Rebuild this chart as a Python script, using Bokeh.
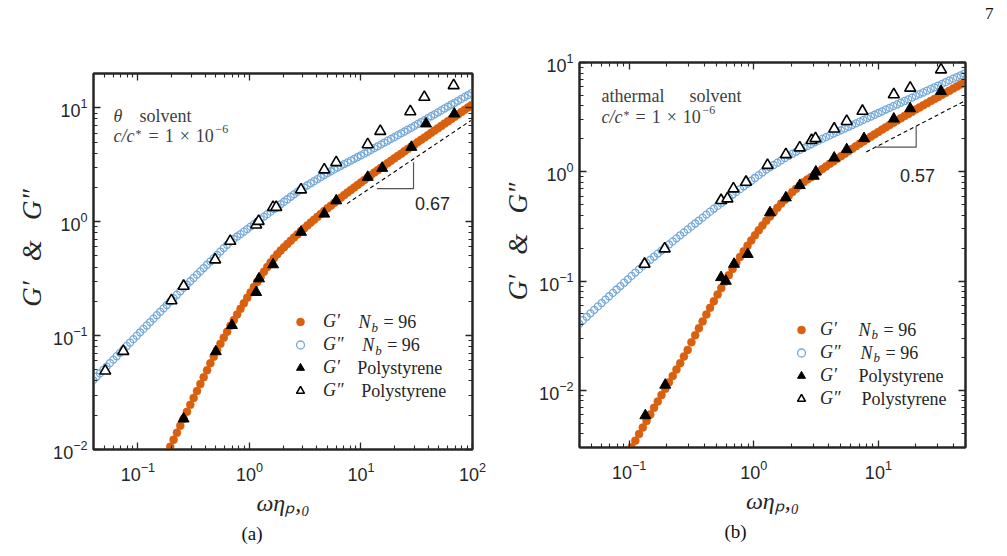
from bokeh.plotting import figure
from bokeh.models import (Range1d, FixedTicker, LogAxis, Label, Legend, LegendItem,
                          CustomJSTickFormatter, Title)
from bokeh.layouts import row, column
from bokeh.embed import file_html
from bokeh.resources import INLINE

# ---------------------------------------------------------------- data
# panel (a): theta solvent -- simulation (log10 values)
LOG_OMEGA_A = [
    -1.40, -1.37, -1.34, -1.31, -1.28, -1.25, -1.22, -1.19, -1.16, -1.13,
    -1.10, -1.07, -1.04, -1.01, -0.98, -0.95, -0.92, -0.89, -0.86, -0.83,
    -0.80, -0.77, -0.74, -0.71, -0.68, -0.65, -0.62, -0.59, -0.56, -0.53,
    -0.50, -0.47, -0.44, -0.41, -0.38, -0.35, -0.32, -0.29, -0.26, -0.23,
    -0.20, -0.17, -0.14, -0.11, -0.08, -0.05, -0.02, 0.01, 0.04, 0.07,
    0.10, 0.13, 0.16, 0.19, 0.22, 0.25, 0.28, 0.31, 0.34, 0.37,
    0.40, 0.43, 0.46, 0.49, 0.52, 0.55, 0.58, 0.61, 0.64, 0.67,
    0.70, 0.73, 0.76, 0.79, 0.82, 0.85, 0.88, 0.91, 0.94, 0.97,
    1.00, 1.03, 1.06, 1.09, 1.12, 1.15, 1.18, 1.21, 1.24, 1.27,
    1.30, 1.33, 1.36, 1.39, 1.42, 1.45, 1.48, 1.51, 1.54, 1.57,
    1.60, 1.63, 1.66, 1.69, 1.72, 1.75, 1.78, 1.81, 1.84, 1.87,
    1.90, 1.93, 1.96, 1.99]
LOG_GPP_SIM_A = [
    -1.391, -1.361, -1.331, -1.301, -1.271, -1.241, -1.211, -1.181, -1.151, -1.121,
    -1.091, -1.061, -1.031, -1.001, -0.971, -0.941, -0.911, -0.881, -0.851, -0.821,
    -0.791, -0.761, -0.731, -0.701, -0.671, -0.641, -0.611, -0.581, -0.552, -0.523,
    -0.494, -0.465, -0.436, -0.407, -0.378, -0.349, -0.320, -0.291, -0.262, -0.232,
    -0.203, -0.174, -0.152, -0.130, -0.109, -0.087, -0.065, -0.043, -0.021, 0.001,
    0.023, 0.044, 0.066, 0.088, 0.110, 0.131, 0.153, 0.175, 0.197, 0.219,
    0.240, 0.262, 0.284, 0.302, 0.320, 0.338, 0.356, 0.374, 0.392, 0.410,
    0.427, 0.443, 0.459, 0.475, 0.490, 0.506, 0.521, 0.537, 0.552, 0.568,
    0.583, 0.599, 0.614, 0.630, 0.646, 0.662, 0.679, 0.695, 0.711, 0.727,
    0.743, 0.760, 0.776, 0.792, 0.808, 0.824, 0.841, 0.858, 0.875, 0.892,
    0.909, 0.926, 0.943, 0.960, 0.977, 0.994, 1.011, 1.028, 1.044, 1.061,
    1.078, 1.095, 1.112, 1.129]
# G' simulation, aligned with the last entries of LOG_OMEGA_A (from -0.74 on)
LOG_GP_SIM_A = [
    -2.038, -1.976, -1.915, -1.853, -1.792, -1.730, -1.669, -1.608, -1.547, -1.486,
    -1.426, -1.365, -1.304, -1.243, -1.185, -1.128, -1.072, -1.018, -0.966, -0.914,
    -0.864, -0.814, -0.765, -0.716, -0.668, -0.621, -0.574, -0.529, -0.486, -0.440,
    -0.398, -0.358, -0.320, -0.285, -0.254, -0.224, -0.195, -0.167, -0.139, -0.112,
    -0.085, -0.059, -0.033, -0.007, 0.018, 0.043, 0.068, 0.093, 0.117, 0.141,
    0.165, 0.188, 0.211, 0.234, 0.257, 0.279, 0.301, 0.323, 0.345, 0.367,
    0.389, 0.410, 0.431, 0.452, 0.473, 0.494, 0.515, 0.536, 0.556, 0.577,
    0.597, 0.618, 0.638, 0.658, 0.678, 0.699, 0.719, 0.739, 0.759, 0.780,
    0.800, 0.820, 0.841, 0.861, 0.881, 0.901, 0.922, 0.942, 0.962, 0.982,
    1.003, 1.023]
# panel (a): polystyrene
PS_OMEGA_GPP_A = [0.051, 0.074, 0.20, 0.257, 0.493, 0.673, 1.15, 1.21, 1.63, 1.74,
                  2.9, 4.69, 6.0, 11.5, 14.9, 27.7, 37.0, 67.8]
PS_GPP_A = [0.049, 0.073, 0.203, 0.272, 0.464, 0.675, 0.94, 1.01, 1.34, 1.34,
            1.91, 2.86, 3.31, 4.76, 6.23, 9.27, 12.4, 15.7]
PS_OMEGA_GP_A = [0.257, 0.50, 0.697, 1.15, 1.22, 1.63, 2.9, 4.69, 6.0, 11.5,
                 15.5, 28.3, 38.3, 68.7]
PS_GP_A = [0.0186, 0.0724, 0.123, 0.24, 0.316, 0.42, 0.81, 1.17, 1.53, 2.46,
           2.95, 4.51, 7.24, 8.85]

# panel (b): athermal solvent -- simulation
LOG_OMEGA_B = [
    -1.40, -1.37, -1.34, -1.31, -1.28, -1.25, -1.22, -1.19, -1.16, -1.13,
    -1.10, -1.07, -1.04, -1.01, -0.98, -0.95, -0.92, -0.89, -0.86, -0.83,
    -0.80, -0.77, -0.74, -0.71, -0.68, -0.65, -0.62, -0.59, -0.56, -0.53,
    -0.50, -0.47, -0.44, -0.41, -0.38, -0.35, -0.32, -0.29, -0.26, -0.23,
    -0.20, -0.17, -0.14, -0.11, -0.08, -0.05, -0.02, 0.01, 0.04, 0.07,
    0.10, 0.13, 0.16, 0.19, 0.22, 0.25, 0.28, 0.31, 0.34, 0.37,
    0.40, 0.43, 0.46, 0.49, 0.52, 0.55, 0.58, 0.61, 0.64, 0.67,
    0.70, 0.73, 0.76, 0.79, 0.82, 0.85, 0.88, 0.91, 0.94, 0.97,
    1.00, 1.03, 1.06, 1.09, 1.12, 1.15, 1.18, 1.21, 1.24, 1.27,
    1.30, 1.33, 1.36, 1.39, 1.42, 1.45, 1.48, 1.51, 1.54, 1.57,
    1.60, 1.63, 1.66, 1.69]
LOG_GPP_SIM_B = [
    -1.390, -1.358, -1.327, -1.295, -1.264, -1.232, -1.201, -1.170, -1.139, -1.108,
    -1.077, -1.046, -1.015, -0.984, -0.953, -0.922, -0.891, -0.861, -0.833, -0.805,
    -0.777, -0.749, -0.721, -0.693, -0.665, -0.637, -0.609, -0.581, -0.554, -0.527,
    -0.500, -0.473, -0.446, -0.419, -0.392, -0.365, -0.338, -0.312, -0.286, -0.261,
    -0.235, -0.210, -0.184, -0.159, -0.133, -0.108, -0.082, -0.057, -0.031, -0.006,
    0.020, 0.041, 0.062, 0.083, 0.104, 0.125, 0.146, 0.165, 0.183, 0.200,
    0.218, 0.235, 0.252, 0.269, 0.285, 0.301, 0.317, 0.333, 0.349, 0.365,
    0.380, 0.396, 0.412, 0.428, 0.443, 0.459, 0.475, 0.491, 0.506, 0.522,
    0.538, 0.553, 0.569, 0.585, 0.601, 0.616, 0.632, 0.648, 0.663, 0.679,
    0.695, 0.711, 0.726, 0.742, 0.758, 0.773, 0.789, 0.805, 0.820, 0.836,
    0.852, 0.867, 0.883, 0.899]
# G' simulation, aligned with the last entries of LOG_OMEGA_B (from -0.98 on)
LOG_GP_SIM_B = [
    -2.520, -2.460, -2.400, -2.340, -2.280, -2.220, -2.160, -2.102, -2.043, -1.985,
    -1.926, -1.868, -1.809, -1.751, -1.690, -1.630, -1.560, -1.495, -1.432, -1.369,
    -1.307, -1.245, -1.184, -1.124, -1.064, -1.005, -0.946, -0.889, -0.833, -0.779,
    -0.727, -0.677, -0.628, -0.581, -0.536, -0.492, -0.449, -0.409, -0.371, -0.329,
    -0.291, -0.255, -0.219, -0.185, -0.155, -0.125, -0.095, -0.070, -0.049, -0.023,
    0.001, 0.025, 0.049, 0.073, 0.096, 0.120, 0.143, 0.166, 0.189, 0.211,
    0.234, 0.256, 0.278, 0.300, 0.322, 0.343, 0.365, 0.386, 0.407, 0.428,
    0.449, 0.469, 0.489, 0.510, 0.529, 0.549, 0.569, 0.589, 0.608, 0.628,
    0.647, 0.666, 0.685, 0.704, 0.723, 0.742, 0.761, 0.780, 0.798, 0.817]
# panel (b): polystyrene
PS_OMEGA_GPP_B = [0.133, 0.193, 0.547, 0.615, 0.687, 0.867, 1.29, 1.81, 2.34, 2.91,
                  3.13, 4.42, 5.57, 7.45, 13.3, 18.0, 31.8]
PS_GPP_B = [0.143, 0.198, 0.548, 0.567, 0.70, 0.805, 1.15, 1.44, 1.66, 1.94,
            2.02, 2.47, 2.90, 3.59, 5.09, 5.85, 8.6]
PS_OMEGA_GP_B = [0.135, 0.195, 0.547, 0.597, 0.695, 0.895, 1.35, 1.81, 2.34, 3.03,
                 3.15, 4.42, 5.57, 7.67, 13.3, 18.0, 31.8]
PS_GP_B = [0.00588, 0.0112, 0.108, 0.100, 0.143, 0.176, 0.423, 0.579, 0.752, 0.914,
           1.0, 1.34, 1.60, 2.02, 3.05, 3.79, 5.46]

# slope guides
SLOPE_LINE_A = ([7.5, 96.6], [1.44, 7.73])
SLOPE_BRACKET_A = ([29.6, 29.6, 13.9], [3.33, 1.95, 1.95])
SLOPE_LABEL_A = "0.67"
SLOPE_LINE_B = ([8.0, 49.0], [1.52, 4.43])
SLOPE_BRACKET_B = ([20.1, 20.1, 9.33], [2.62, 1.68, 1.68])
SLOPE_LABEL_B = "0.57"

X_TICKS = [0.1, 1, 10, 100]
Y_TICKS = [0.01, 0.1, 1, 10]
MINOR = [m * 10.0 ** e for e in range(-3, 3) for m in range(2, 10)]

Y_LABEL = "\u2003G′ \u2002&\u2002 G″"
X_LABEL = "ωηₚ,₀"
PAGE_NUMBER = "7"

# ---------------------------------------------------------------- style
ORANGE = "#D9600F"
BLUE = "#74A9D8"
AXC = "#262626"
TXT = "#404040"
SERIF = "Liberation Serif"
SANS = "Liberation Sans"
SP = "\u2004"   # three-per-em space


def lin(vals):
    return [10.0 ** v for v in vals]


def style_axis(ax, ticks, show_labels=True):
    ax.ticker = FixedTicker(ticks=ticks, minor_ticks=MINOR)
    ax.major_tick_in = 7
    ax.major_tick_out = 0
    ax.minor_tick_in = 4
    ax.minor_tick_out = 0
    ax.major_tick_line_color = AXC
    ax.major_tick_line_width = 1.3
    ax.minor_tick_line_color = AXC
    ax.minor_tick_line_width = 1.1
    ax.axis_line_color = AXC
    ax.axis_line_width = 2
    ax.major_label_text_font = SANS
    ax.major_label_text_font_size = "18px"
    ax.major_label_text_color = AXC
    if not show_labels:
        ax.formatter = CustomJSTickFormatter(code="return ''")


def build(cfg):
    p = figure(width=cfg["width"], height=556, x_axis_type="log", y_axis_type="log",
               x_range=Range1d(*cfg["xr"]), y_range=Range1d(*cfg["yr"]),
               toolbar_location=None, output_backend="svg",
               min_border_left=cfg["fl"], min_border_right=cfg["width"] - cfg["fr"],
               min_border_top=cfg["ft"], min_border_bottom=556 - cfg["fb"])
    p.background_fill_color = "white"
    p.border_fill_color = "white"
    p.outline_line_color = AXC
    p.outline_line_width = 2
    p.outline_line_alpha = 1.0
    p.grid.visible = False

    xa, ya = p.xaxis[0], p.yaxis[0]
    style_axis(xa, X_TICKS)
    style_axis(ya, Y_TICKS)
    xa.major_label_standoff = 12
    ya.major_label_standoff = 6
    xa.axis_label = X_LABEL
    xa.axis_label_text_font = SERIF
    xa.axis_label_text_font_style = "italic"
    xa.axis_label_text_font_size = "24px"
    xa.axis_label_text_color = AXC
    xa.axis_label_standoff = 6
    ya.axis_label = Y_LABEL
    ya.axis_label_text_font = SERIF
    ya.axis_label_text_font_style = "italic"
    ya.axis_label_text_font_size = "27px"
    ya.axis_label_text_color = AXC
    ya.axis_label_standoff = 3

    top = LogAxis()
    right = LogAxis()
    style_axis(top, X_TICKS, False)
    style_axis(right, Y_TICKS, False)
    p.add_layout(top, "above")
    p.add_layout(right, "right")

    # caption under the axis
    p.add_layout(Title(text=cfg["caption"], align="left", offset=cfg["cap_off"],
                       text_font=SERIF, text_font_style="normal", text_font_size="19px",
                       text_color="#111111", standoff=4), "below")
    if cfg.get("page"):
        # three-line block so that the number sits at the very top of the page
        p.add_layout(Title(text=cfg["page"] + "\n\u00a0\n\u00a0", align="right", offset=-28,
                           vertical_align="top", text_font=SERIF,
                           text_font_style="normal", text_font_size="17px",
                           text_color="#111111", standoff=0), "above")

    lo, lgpp, lgp = cfg["log_omega"], cfg["log_gpp"], cfg["log_gp"]
    r_gpp = p.scatter(lin(lo), lin(lgpp), marker="circle", size=7, fill_color=None,
                      line_color=BLUE, line_width=1.3)
    r_gp = p.scatter(lin(lo[len(lo) - len(lgp):]), lin(lgp), marker="circle", size=8,
                     fill_color=ORANGE, line_color=ORANGE, line_width=0.5)
    r_ps_gp = p.scatter(cfg["ps_w_gp"], cfg["ps_gp"], marker="triangle", size=11,
                        fill_color="black", line_color="black", line_width=1)
    r_ps_gpp = p.scatter(cfg["ps_w_gpp"], cfg["ps_gpp"], marker="triangle", size=11,
                         fill_color="white", line_color="black", line_width=1.6)

    sx, sy = cfg["slope_line"]
    p.line(sx, sy, line_color="black", line_width=1.1, line_dash="4 3")
    bx, by = cfg["bracket"]
    p.line(bx, by, line_color="#555555", line_width=1.2)

    legend = Legend(items=[LegendItem(label="G′", renderers=[r_gp]),
                           LegendItem(label="G″", renderers=[r_gpp]),
                           LegendItem(label="G′", renderers=[r_ps_gp]),
                           LegendItem(label="G″", renderers=[r_ps_gpp])],
                    location=cfg["legend_loc"], orientation="vertical",
                    border_line_color=None, background_fill_alpha=0.0,
                    padding=0, margin=0, spacing=2, glyph_width=20, glyph_height=21,
                    label_height=21, label_standoff=cfg["standoff"],
                    label_text_font=SERIF, label_text_font_style="italic",
                    label_text_font_size="18px", label_text_color=AXC)
    p.add_layout(legend)

    def txt(px, py, text, size, font=SERIF, style="normal", align="left", color=AXC):
        p.add_layout(Label(x=cfg["xr"][0], y=cfg["yr"][0], x_units="data", y_units="data",
                           x_offset=px - cfg["fl"], y_offset=cfg["fb"] - py, text=text,
                           text_font=font, text_font_size=f"{size}px",
                           text_font_style=style, text_align=align,
                           text_baseline="middle", text_color=color))

    for t in cfg["texts"]:
        txt(*t)
    return p


def panel_texts(o):
    t = [(o["slx"], o["sly"], o["sl"], 18, SANS, "normal", "center", AXC)]
    for i, (nx, kind) in enumerate(o["leg"]):
        yy = o["leg_y0"] + 23 * i
        if kind == "N":
            t.append((nx, yy, "N", 18, SERIF, "italic", "left", AXC))
            t.append((nx + 13, yy + 5, "b", 13, SERIF, "italic", "left", AXC))
            t.append((nx + 25, yy, "= 96", 18, SERIF, "normal", "left", AXC))
        else:
            t.append((nx, yy, "Polystyrene", 18, SERIF, "normal", "left", AXC))
    return t


texts_a = panel_texts(dict(slx=432, sly=203, sl=SLOPE_LABEL_A, leg_y0=321.7,
                           leg=[(358, "N"), (361.7, "N"), (356.7, "P"), (360.7, "P")]))
texts_a += [
    (113, 115, "θ", 18, SERIF, "italic", "left", TXT),
    (139, 115, "solvent", 18, SERIF, "normal", "left", TXT),
    (113, 135, "c/c", 18, SERIF, "italic", "left", TXT),
    (135, 133, "*", 12, SERIF, "normal", "left", TXT),
    (148, 135, "=" + SP + "1" + SP + "×" + SP + "10", 18, SERIF, "normal", "left", TXT),
    (215, 128, "−6", 12, SERIF, "normal", "left", TXT),
]

texts_b = panel_texts(dict(slx=915, sly=175, sl=SLOPE_LABEL_B, leg_y0=329.3,
                           leg=[(856, "N"), (858, "N"), (856, "P"), (859, "P")]))
texts_b += [
    (599, 95, "athermal", 18, SERIF, "normal", "left", TXT),
    (687, 95, "solvent", 18, SERIF, "normal", "left", TXT),
    (599, 116, "c/c", 18, SERIF, "italic", "left", TXT),
    (621, 114, "*", 12, SERIF, "normal", "left", TXT),
    (633, 116, "=" + SP + "1" + SP + "×" + SP + "10", 18, SERIF, "normal", "left", TXT),
    (700, 109, "−6", 12, SERIF, "normal", "left", TXT),
]

cfg_a = dict(width=500, xr=(0.04, 100), yr=(0.01, 20), fl=93, fr=472, ft=73, fb=449,
             log_omega=LOG_OMEGA_A, log_gpp=LOG_GPP_SIM_A, log_gp=LOG_GP_SIM_A,
             ps_w_gp=PS_OMEGA_GP_A, ps_gp=PS_GP_A, ps_w_gpp=PS_OMEGA_GPP_A, ps_gpp=PS_GPP_A,
             slope_line=SLOPE_LINE_A, bracket=SLOPE_BRACKET_A,
             legend_loc=(197, 48), standoff=13, texts=texts_a,
             caption="(a)", cap_off=148)
# panel (b) pixel anchors above are page coordinates; its canvas starts at x=500
cfg_b = dict(width=507, xr=(0.04, 50), yr=(0.003, 10), fl=77, fr=465, ft=62, fb=447,
             log_omega=LOG_OMEGA_B, log_gpp=LOG_GPP_SIM_B, log_gp=LOG_GP_SIM_B,
             ps_w_gp=PS_OMEGA_GP_B, ps_gp=PS_GP_B, ps_w_gpp=PS_OMEGA_GPP_B, ps_gpp=PS_GPP_B,
             slope_line=SLOPE_LINE_B, bracket=SLOPE_BRACKET_B,
             legend_loc=(212, 38), standoff=9,
             texts=[(t[0] - 500,) + t[1:] for t in texts_b],
             caption="(b)", cap_off=145, page=PAGE_NUMBER)

pa = build(cfg_a)
pb = build(cfg_b)
layout = row(column(pa), column(pb))
layout.spacing = 0

with open("out.html", "w") as f:
    f.write(file_html(layout, INLINE))
